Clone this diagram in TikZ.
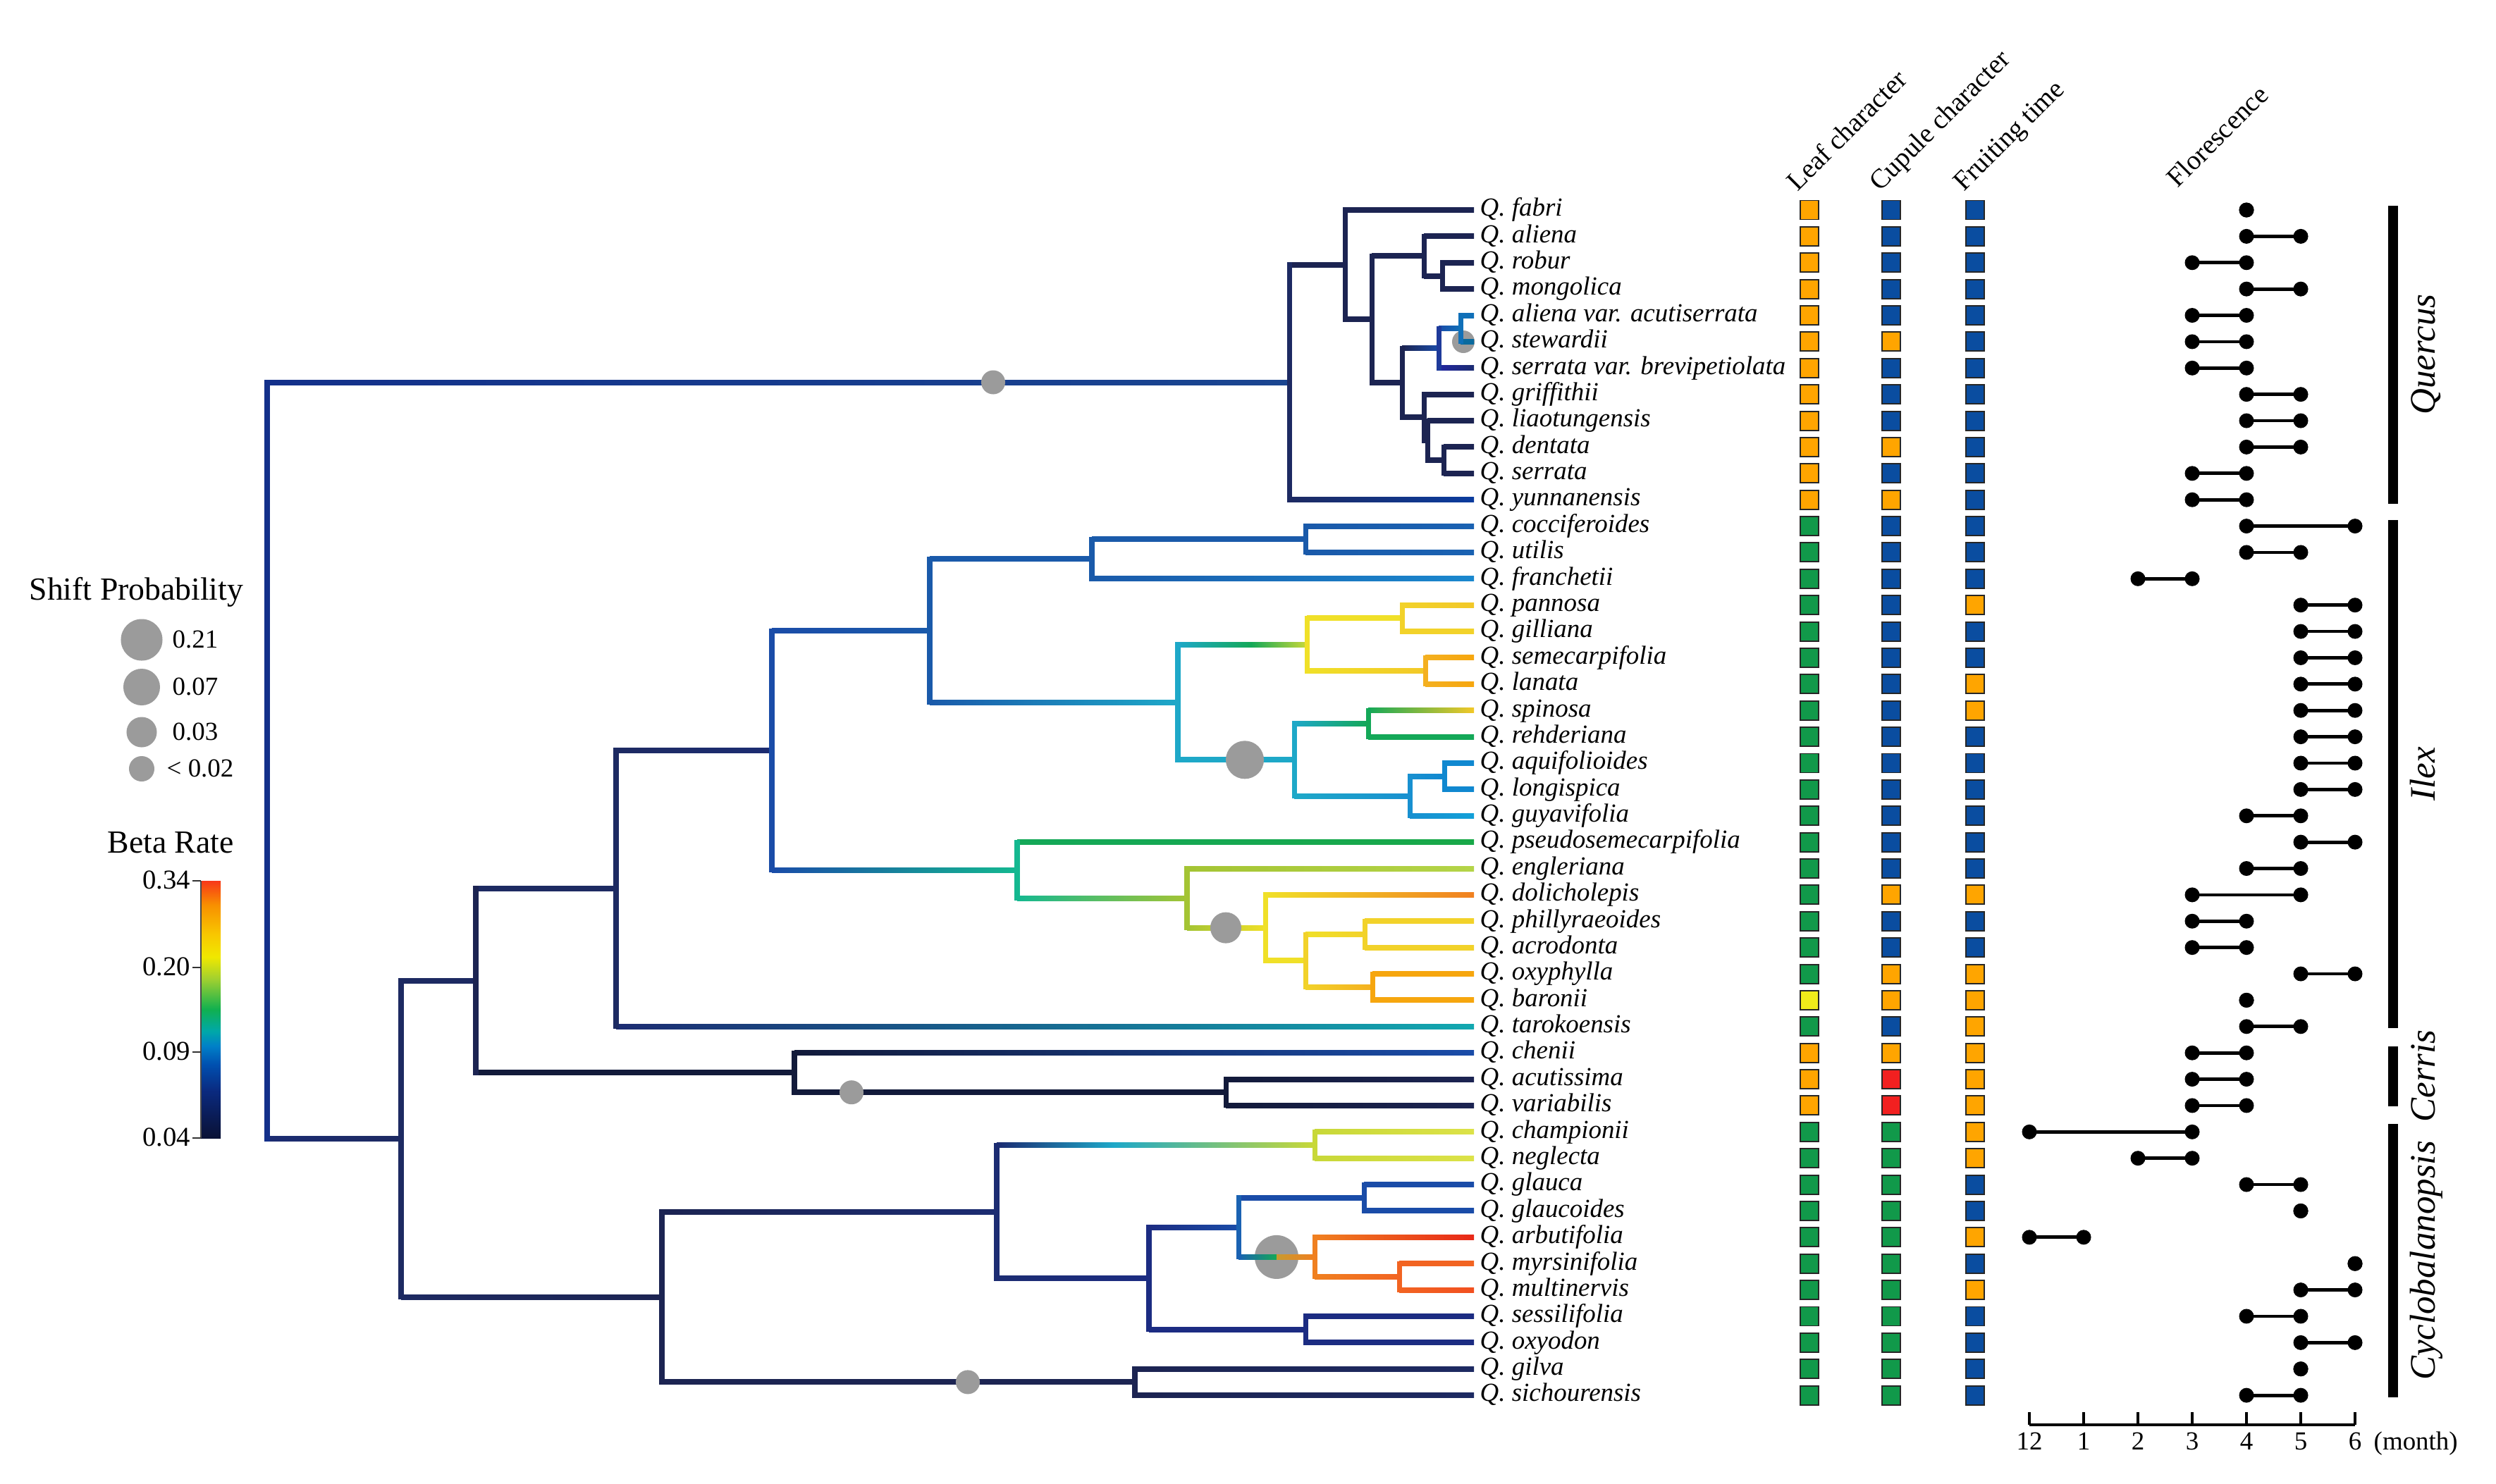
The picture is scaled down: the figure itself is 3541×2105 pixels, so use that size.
\documentclass[tikz,border=0pt]{standalone}
\usepackage{fontspec}
\setmainfont{Liberation Serif}
\usetikzlibrary{calc}
% branch colours
\definecolor{nvA}{HTML}{1C2452}
\definecolor{nvB}{HTML}{1D2A62}
\definecolor{nvC}{HTML}{1C2C72}
\definecolor{nvD}{HTML}{1C2C82}
\definecolor{dkA}{HTML}{121A3A}
\definecolor{blA}{HTML}{0B3C9E}
\definecolor{blB}{HTML}{1A4CA8}
\definecolor{blC}{HTML}{1A5AAA}
\definecolor{blD}{HTML}{1A62B2}
\definecolor{blE}{HTML}{1070B8}
\definecolor{blF}{HTML}{1A88CE}
\definecolor{idA}{HTML}{2226A0}
\definecolor{idB}{HTML}{1E3A9A}
\definecolor{rtA}{HTML}{13308A}
\definecolor{rtM}{HTML}{2088C8}
\definecolor{rtR}{HTML}{1A4590}
\definecolor{cyA}{HTML}{1EA8C8}
\definecolor{cyB}{HTML}{1890D0}
\definecolor{cyC}{HTML}{1088D0}
\definecolor{cyD}{HTML}{12A0D8}
\definecolor{tlA}{HTML}{14B890}
\definecolor{tlB}{HTML}{12A8B0}
\definecolor{teA}{HTML}{0A6A9E}
\definecolor{grA}{HTML}{14A858}
\definecolor{grB}{HTML}{18A848}
\definecolor{ygA}{HTML}{A4C434}
\definecolor{ygB}{HTML}{B4D448}
\definecolor{ygC}{HTML}{C8D838}
\definecolor{ygD}{HTML}{DCE248}
\definecolor{yeA}{HTML}{F0E028}
\definecolor{yeB}{HTML}{F2D22A}
\definecolor{yeC}{HTML}{F2C828}
\definecolor{orA}{HTML}{F4B020}
\definecolor{orB}{HTML}{F6A60E}
\definecolor{orC}{HTML}{F08020}
\definecolor{orD}{HTML}{F26422}
\definecolor{orE}{HTML}{F25020}
\definecolor{olA}{HTML}{C89A30}
\definecolor{rdA}{HTML}{E82818}
% square colours
\definecolor{sqO}{HTML}{FFA500}
\definecolor{sqB}{HTML}{0A4DA0}
\definecolor{sqG}{HTML}{11994A}
\definecolor{sqR}{HTML}{F22020}
\definecolor{sqY}{HTML}{F0EC1A}
\definecolor{circG}{HTML}{9B9B9B}
% colour bar
\definecolor{cb0}{HTML}{0A1236}
\definecolor{cb1}{HTML}{0A1A50}
\definecolor{cb2}{HTML}{0A2A80}
\definecolor{cb3}{HTML}{0050B0}
\definecolor{cb4}{HTML}{0080C8}
\definecolor{cb5}{HTML}{00A8A8}
\definecolor{cb6}{HTML}{10B050}
\definecolor{cb7}{HTML}{A0D030}
\definecolor{cb8}{HTML}{F0E800}
\definecolor{cb9}{HTML}{F8C800}
\definecolor{cb10}{HTML}{F89000}
\definecolor{cb11}{HTML}{F83818}
\pgfdeclareverticalshading{betabar}{100bp}{color(0bp)=(cb0); color(25bp)=(cb0); color(28.5bp)=(cb1); color(34.25bp)=(cb2); color(39.3bp)=(cb3); color(42.9bp)=(cb4); color(45.8bp)=(cb5); color(50bp)=(cb6); color(55.9bp)=(cb7); color(60.2bp)=(cb8); color(64.5bp)=(cb9); color(70.3bp)=(cb10); color(75bp)=(cb11); color(100bp)=(cb11)}
\newcommand\HBr[4]{\shade[left color=#3,right color=#4] ($(#1|-#2)+(0,-3.5)$) rectangle ($(#2)+(0,3.5)$);}
\newcommand\HBm[5]{\shade[left color=#3,middle color=#4,right color=#5] ($(#1|-#2)+(0,-3.5)$) rectangle ($(#2)+(0,3.5)$);}
\newcommand\VBr[4]{\draw[br,#4] (#1|-#2) -- (#1|-#3);}
\begin{document}
\begin{tikzpicture}[x=0.01cm,y=-0.01cm,
  br/.style={line width=2pt,line cap=rect},
  tip/.style={anchor=west,inner sep=0pt,font=\fontsize{10.5}{12}\selectfont\itshape,text height=0.7em,text depth=0.2em},
  sq/.style={draw=black!85,line width=0.55pt,minimum width=0.26cm,minimum height=0.27cm,inner sep=0pt},
  hdr/.style={rotate=45,anchor=base west,inner sep=0pt,font=\fontsize{11}{13}\selectfont},
  clade/.style={rotate=90,anchor=base,inner sep=0pt,font=\fontsize{14.5}{16}\selectfont\itshape},
  legtxt/.style={inner sep=0pt,font=\fontsize{10.5}{12}\selectfont,text height=0.66em,text depth=0pt},
  fl/.style={line width=1.35pt},
  shiftdot/.style={fill=circG}]
\fill[white] (0,0) rectangle (3541,2105);
\useasboundingbox (0,0) rectangle (3541,2105);

% ---------- tips ----------
\foreach \i in {1,...,46}{\coordinate (t\i) at (2091,{298+(\i-1)*37.38});}

% ---------- internal nodes ----------
\coordinate (Root) at (379,1079);
\coordinate (K) at (1829,542.5);
\coordinate (J) at (1908,375.7);
\coordinate (I) at (1946,453.4);
\coordinate (B) at (2020,363.4);
\coordinate (A) at (2046,391.5);
\coordinate (H) at (1989,543.3);
\coordinate (D) at (2041,494.2);
\coordinate (C) at (2072,466.2);
\coordinate (G) at (2020,592.4);
\coordinate (F) at (2025,625.1);
\coordinate (E) at (2048,653.1);
\coordinate (N1) at (1852,765.3);
\coordinate (N2) at (1549,793.3);
\coordinate (P1) at (1989,877.4);
\coordinate (P2) at (2022,952.2);
\coordinate (P3) at (1854,914.8);
\coordinate (RP) at (1775,914.8);
\coordinate (Q1) at (1941,1026.9);
\coordinate (Q2) at (2049,1101.7);
\coordinate (Q3) at (2000,1129.7);
\coordinate (Q4) at (1836,1078.3);
\coordinate (R) at (1671,996.6);
\coordinate (S) at (1319,895);
\coordinate (T1) at (1936,1326);
\coordinate (T2) at (1947,1400.7);
\coordinate (T3) at (1852,1363.3);
\coordinate (T4) at (1795,1316.6);
\coordinate (T5) at (1684,1274.5);
\coordinate (T6) at (1443,1234.8);
\coordinate (U) at (1095,1064.9);
\coordinate (V) at (874,1260.8);
\coordinate (W1) at (1739,1550.2);
\coordinate (W2) at (1127,1522.2);
\coordinate (X) at (675,1391.5);
\coordinate (Y1) at (1865,1625);
\coordinate (Y81) at (1580,1625);
\coordinate (Y2) at (1935,1699.8);
\coordinate (Y3) at (1985,1811.9);
\coordinate (Y4) at (1865,1783.9);
\coordinate (Y45) at (1811,1783.9);
\coordinate (Y5) at (1757,1741.9);
\coordinate (Y6) at (1852,1886.7);
\coordinate (Y7) at (1630,1814.3);
\coordinate (Y8) at (1414,1719.7);
\coordinate (Y9) at (1610,1961.4);
\coordinate (Y10) at (939,1840.6);
\coordinate (Z) at (569,1616);

% circles drawn beneath their branches
\fill[shiftdot] (2076,485) circle (0.16cm);
\fill[shiftdot] (Y45) circle (0.31cm);

% ---------- Quercus ----------
\HBm{Root}{K}{rtA}{rtM}{rtR}
\HBr{Root}{Z}{nvC}{nvB}
\HBr{K}{J}{nvA}{nvA}
\HBr{K}{t12}{nvB}{blA}
\HBr{J}{t1}{nvA}{nvA}
\HBr{J}{I}{nvA}{nvA}
\HBr{I}{B}{nvA}{nvA}
\HBr{B}{t2}{nvA}{nvA}
\HBr{B}{A}{nvA}{nvA}
\HBr{A}{t3}{nvA}{nvA}
\HBr{A}{t4}{nvA}{nvA}
\HBr{I}{H}{nvA}{nvA}
\HBr{H}{D}{nvA}{blB}
\HBr{D}{C}{blB}{blE}
\HBr{C}{t5}{blE}{blE}
\HBr{C}{t6}{teA}{teA}
\HBr{D}{t7}{idA}{nvC}
\HBr{H}{G}{nvA}{nvA}
\HBr{G}{t8}{nvA}{nvA}
\HBr{G}{F}{nvA}{nvA}
\HBr{F}{t9}{nvA}{nvA}
\HBr{F}{E}{nvA}{nvA}
\HBr{E}{t10}{nvA}{nvA}
\HBr{E}{t11}{nvA}{nvA}
\VBr{Root}{K}{Z}{rtA}
\VBr{K}{J}{t12}{nvB}
\VBr{J}{t1}{I}{nvA}
\VBr{I}{B}{H}{nvA}
\VBr{B}{t2}{A}{nvA}
\VBr{A}{t3}{t4}{nvA}
\VBr{H}{D}{G}{nvA}
\VBr{D}{C}{t7}{idB}
\VBr{C}{t5}{t6}{blE}
\VBr{G}{t8}{F}{nvA}
\VBr{F}{t9}{E}{nvA}
\VBr{E}{t10}{t11}{nvA}

% ---------- Ilex ----------
\HBr{Z}{X}{nvB}{nvB}
\HBr{Z}{Y10}{nvB}{nvA}
\VBr{Z}{X}{Y10}{nvB}
\HBr{X}{V}{nvB}{nvB}
\HBr{X}{W2}{dkA}{dkA}
\VBr{X}{V}{W2}{nvA}
\HBr{V}{U}{nvB}{nvC}
\HBm{V}{t32}{nvC}{blE}{tlB}
\VBr{V}{U}{t32}{nvB}
\HBr{U}{S}{blB}{blC}
\HBm{U}{T6}{blB}{cyA}{tlA}
\VBr{U}{S}{T6}{blB}
\HBr{S}{N2}{blC}{blC}
\HBr{S}{R}{blC}{cyA}
\VBr{S}{N2}{R}{blC}
\HBr{N2}{N1}{blC}{blC}
\HBr{N2}{t15}{blC}{blF}
\VBr{N2}{N1}{t15}{blC}
\HBr{N1}{t13}{blC}{blD}
\HBr{N1}{t14}{blC}{blD}
\VBr{N1}{t13}{t14}{blC}
\HBr{R}{RP}{cyA}{grA}
\HBr{RP}{P3}{grA}{ygC}
\HBr{R}{Q4}{cyA}{cyA}
\VBr{R}{P3}{Q4}{cyA}
\HBr{P3}{P1}{yeA}{yeA}
\HBr{P3}{P2}{yeA}{yeC}
\VBr{P3}{P1}{P2}{yeA}
\HBr{P1}{t16}{yeB}{yeC}
\HBr{P1}{t17}{yeB}{yeB}
\VBr{P1}{t16}{t17}{yeB}
\HBr{P2}{t18}{orA}{orB}
\HBr{P2}{t19}{orA}{orB}
\VBr{P2}{t18}{t19}{orA}
\HBr{Q4}{Q1}{cyA}{grA}
\HBr{Q4}{Q3}{cyA}{cyB}
\VBr{Q4}{Q1}{Q3}{cyA}
\HBm{Q1}{t20}{grA}{yeA}{yeC}
\HBr{Q1}{t21}{grA}{grA}
\VBr{Q1}{t20}{t21}{grA}
\HBr{Q3}{Q2}{cyB}{cyC}
\HBr{Q3}{t24}{cyB}{cyD}
\VBr{Q3}{Q2}{t24}{cyB}
\HBr{Q2}{t22}{cyC}{cyC}
\HBr{Q2}{t23}{cyC}{cyC}
\VBr{Q2}{t22}{t23}{cyC}
\HBr{T6}{t25}{grA}{grB}
\HBr{T6}{T5}{tlA}{ygA}
\VBr{T6}{t25}{T5}{tlA}
\HBr{T5}{t26}{ygA}{ygB}
\HBr{T5}{T4}{ygA}{yeA}
\VBr{T5}{t26}{T4}{ygA}
\HBm{T4}{t27}{yeA}{yeC}{orC}
\HBr{T4}{T3}{yeA}{yeA}
\VBr{T4}{t27}{T3}{yeA}
\HBr{T3}{T1}{yeA}{yeB}
\HBr{T3}{T2}{yeB}{orA}
\VBr{T3}{T1}{T2}{yeB}
\HBr{T1}{t28}{yeB}{yeB}
\HBr{T1}{t29}{yeB}{yeB}
\VBr{T1}{t28}{t29}{yeB}
\HBr{T2}{t30}{orB}{orB}
\HBr{T2}{t31}{orB}{orB}
\VBr{T2}{t30}{t31}{orB}

% ---------- Cerris ----------
\HBr{W2}{t33}{dkA}{blB}
\HBr{W2}{W1}{dkA}{dkA}
\VBr{W2}{t33}{W1}{dkA}
\HBr{W1}{t34}{dkA}{nvA}
\HBr{W1}{t35}{dkA}{nvA}
\VBr{W1}{t34}{t35}{dkA}

% ---------- Cyclobalanopsis ----------
\HBr{Y10}{Y8}{nvA}{nvC}
\HBr{Y10}{Y9}{nvA}{nvA}
\VBr{Y10}{Y8}{Y9}{nvA}
\HBm{Y8}{Y81}{nvC}{blD}{cyA}
\HBm{Y81}{Y1}{cyA}{grA}{ygC}
\HBr{Y8}{Y7}{nvC}{nvD}
\VBr{Y8}{Y1}{Y7}{nvC}
\HBr{Y1}{t36}{ygC}{ygD}
\HBr{Y1}{t37}{ygC}{ygD}
\VBr{Y1}{t36}{t37}{ygC}
\HBr{Y7}{Y5}{nvD}{blB}
\HBr{Y7}{Y6}{nvD}{nvD}
\VBr{Y7}{Y5}{Y6}{nvD}
\HBr{Y5}{Y2}{blB}{blB}
\HBr{Y5}{Y45}{blD}{grA}
\HBr{Y45}{Y4}{olA}{orC}
\VBr{Y5}{Y2}{Y4}{blD}
\HBr{Y2}{t38}{blB}{blB}
\HBr{Y2}{t39}{blB}{blB}
\VBr{Y2}{t38}{t39}{blB}
\HBm{Y4}{t40}{orC}{orD}{rdA}
\HBr{Y4}{Y3}{orC}{orD}
\VBr{Y4}{t40}{Y3}{orC}
\HBr{Y3}{t41}{orD}{orD}
\HBr{Y3}{t42}{orD}{orE}
\VBr{Y3}{t41}{t42}{orD}
\HBr{Y6}{t43}{nvD}{nvD}
\HBr{Y6}{t44}{nvD}{nvD}
\VBr{Y6}{t43}{t44}{nvD}
\HBr{Y9}{t45}{nvA}{nvB}
\HBr{Y9}{t46}{nvA}{nvB}
\VBr{Y9}{t45}{t46}{nvA}

% ---------- shift circles on top ----------
\fill[shiftdot] (1409,542.5) circle (0.17cm);
\fill[shiftdot] (1766,1078.3) circle (0.27cm);
\fill[shiftdot] (1739,1316.6) circle (0.22cm);
\fill[shiftdot] (1208,1550.2) circle (0.17cm);
\fill[shiftdot] (1373,1961.4) circle (0.17cm);

% ---------- tip labels ----------
\foreach \i/\n in {1/fabri,2/aliena,3/robur,4/mongolica,5/aliena var. acutiserrata,6/stewardii,7/serrata var. brevipetiolata,8/griffithii,9/liaotungensis,10/dentata,11/serrata,12/yunnanensis,13/cocciferoides,14/utilis,15/franchetii,16/pannosa,17/gilliana,18/semecarpifolia,19/lanata,20/spinosa,21/rehderiana,22/aquifolioides,23/longispica,24/guyavifolia,25/pseudosemecarpifolia,26/engleriana,27/dolicholepis,28/phillyraeoides,29/acrodonta,30/oxyphylla,31/baronii,32/tarokoensis,33/chenii,34/acutissima,35/variabilis,36/championii,37/neglecta,38/glauca,39/glaucoides,40/arbutifolia,41/myrsinifolia,42/multinervis,43/sessilifolia,44/oxyodon,45/gilva,46/sichourensis}
  {\node[tip] (lab\i) at ($(t\i)+(8,0)$) {Q. \n};}

% ---------- character squares ----------
\foreach \i/\a/\b/\c in {1/O/B/B,2/O/B/B,3/O/B/B,4/O/B/B,5/O/B/B,6/O/O/B,7/O/B/B,8/O/B/B,9/O/B/B,10/O/O/B,11/O/B/B,12/O/O/B,13/G/B/B,14/G/B/B,15/G/B/B,16/G/B/O,17/G/B/B,18/G/B/B,19/G/B/O,20/G/B/O,21/G/B/B,22/G/B/B,23/G/B/B,24/G/B/B,25/G/B/B,26/G/B/B,27/G/O/O,28/G/B/B,29/G/B/B,30/G/O/O,31/Y/O/O,32/G/B/O,33/O/O/O,34/O/R/O,35/O/R/O,36/G/G/O,37/G/G/O,38/G/G/B,39/G/G/B,40/G/G/O,41/G/G/B,42/G/G/O,43/G/G/B,44/G/G/B,45/G/G/B,46/G/G/B}
  {\node[sq,fill=sq\a] (lf\i) at ($(t\i)+(476,0)$) {};
   \node[sq,fill=sq\b] (cu\i) at ($(t\i)+(592,0)$) {};
   \node[sq,fill=sq\c] (fr\i) at ($(t\i)+(711,0)$) {};}

% ---------- column headers ----------
\node[hdr] (hLeaf) at (2550,273) {Leaf character};
\node[hdr] (hCup) at (2667,273) {Cupule character};
\node[hdr] (hFru) at (2786,273) {Fruiting time};
\node[hdr] (hFlo) at (3089,268) {Florescence};

% ---------- florescence ----------
\foreach \r/\a/\b in {1/4/4,2/4/5,3/3/4,4/4/5,5/3/4,6/3/4,7/3/4,8/4/5,9/4/5,10/4/5,11/3/4,12/3/4,13/4/6,14/4/5,15/2/3,16/5/6,17/5/6,18/5/6,19/5/6,20/5/6,21/5/6,22/5/6,23/5/6,24/4/5,25/5/6,26/4/5,27/3/5,28/3/4,29/3/4,30/5/6,31/4/4,32/4/5,33/3/4,34/3/4,35/3/4,36/0/3,37/2/3,38/4/5,39/5/5,40/0/1,41/6/6,42/5/6,43/4/5,44/5/6,45/5/5,46/4/5}
  {\coordinate (fa\r) at ($(t\r)+({788+77*\a},0)$);
   \coordinate (fb\r) at ($(t\r)+({788+77*\b},0)$);
   \draw[fl] (fa\r) -- (fb\r);
   \fill (fa\r) circle (0.105cm);
   \fill (fb\r) circle (0.105cm);}
\coordinate (ax0) at (2879,2022);
\coordinate (ax6) at (3341,2022);
\draw[line width=1.3pt] (ax0) -- (ax6);
\foreach \k/\l in {0/12,1/1,2/2,3/3,4/4,5/5,6/6}
  {\draw[line width=1.1pt] ($(ax0)+({77*\k},0)$) -- ($(ax0)+({77*\k},-18)$);
   \node[anchor=base,inner sep=0pt,font=\fontsize{10.5}{12}\selectfont] (tk\k) at ($(ax0)+({77*\k},35)$) {\l};}
\node[anchor=base west,inner sep=0pt,font=\fontsize{10.5}{12}\selectfont] (month) at (3367,2057) {(month)};

% ---------- clade bars ----------
\fill (3388,292) rectangle (3402,715);
\fill (3388,738) rectangle (3402,1459);
\fill (3388,1485) rectangle (3402,1570);
\fill (3388,1595) rectangle (3402,1983);
\node[clade] (cQ) at (3454,503) {Quercus};
\node[clade] (cI) at (3454,1098) {Ilex};
\node[clade] (cC) at (3454,1527) {Cerris};
\node[clade] (cY) at (3454,1789) {Cyclobalanopsis};

% ---------- legend ----------
\node[anchor=west,inner sep=0pt,font=\fontsize{13}{15}\selectfont] (lgS) at (41,840) {Shift Probability};
\fill[shiftdot] (201,908) circle (0.295cm);
\fill[shiftdot] (201,975) circle (0.26cm);
\fill[shiftdot] (201,1039) circle (0.215cm);
\fill[shiftdot] (201,1091) circle (0.18cm);
\node[legtxt,anchor=west] at (244,908) {0.21};
\node[legtxt,anchor=west] at (244,975) {0.07};
\node[legtxt,anchor=west] at (244,1039) {0.03};
\node[legtxt,anchor=west] at (236,1091) {< 0.02};
\node[inner sep=0pt,font=\fontsize{13}{15}\selectfont] (lgB) at (242,1196) {Beta Rate};
\shade[shading=betabar] (285,1250) rectangle (313,1615);
\draw[black!70,line width=0.5pt] (285,1250) -- (285,1615);
\foreach \yy/\lab in {1250/0.34,1373/0.20,1493/0.09,1615/0.04}
  {\draw[black!80,line width=0.6pt] (273,\yy) -- (285,\yy);
   \node[anchor=east,inner sep=0pt,font=\fontsize{11}{13}\selectfont,text height=0.66em,text depth=0pt] at (271,\yy) {\lab};}
\end{tikzpicture}
\end{document}
